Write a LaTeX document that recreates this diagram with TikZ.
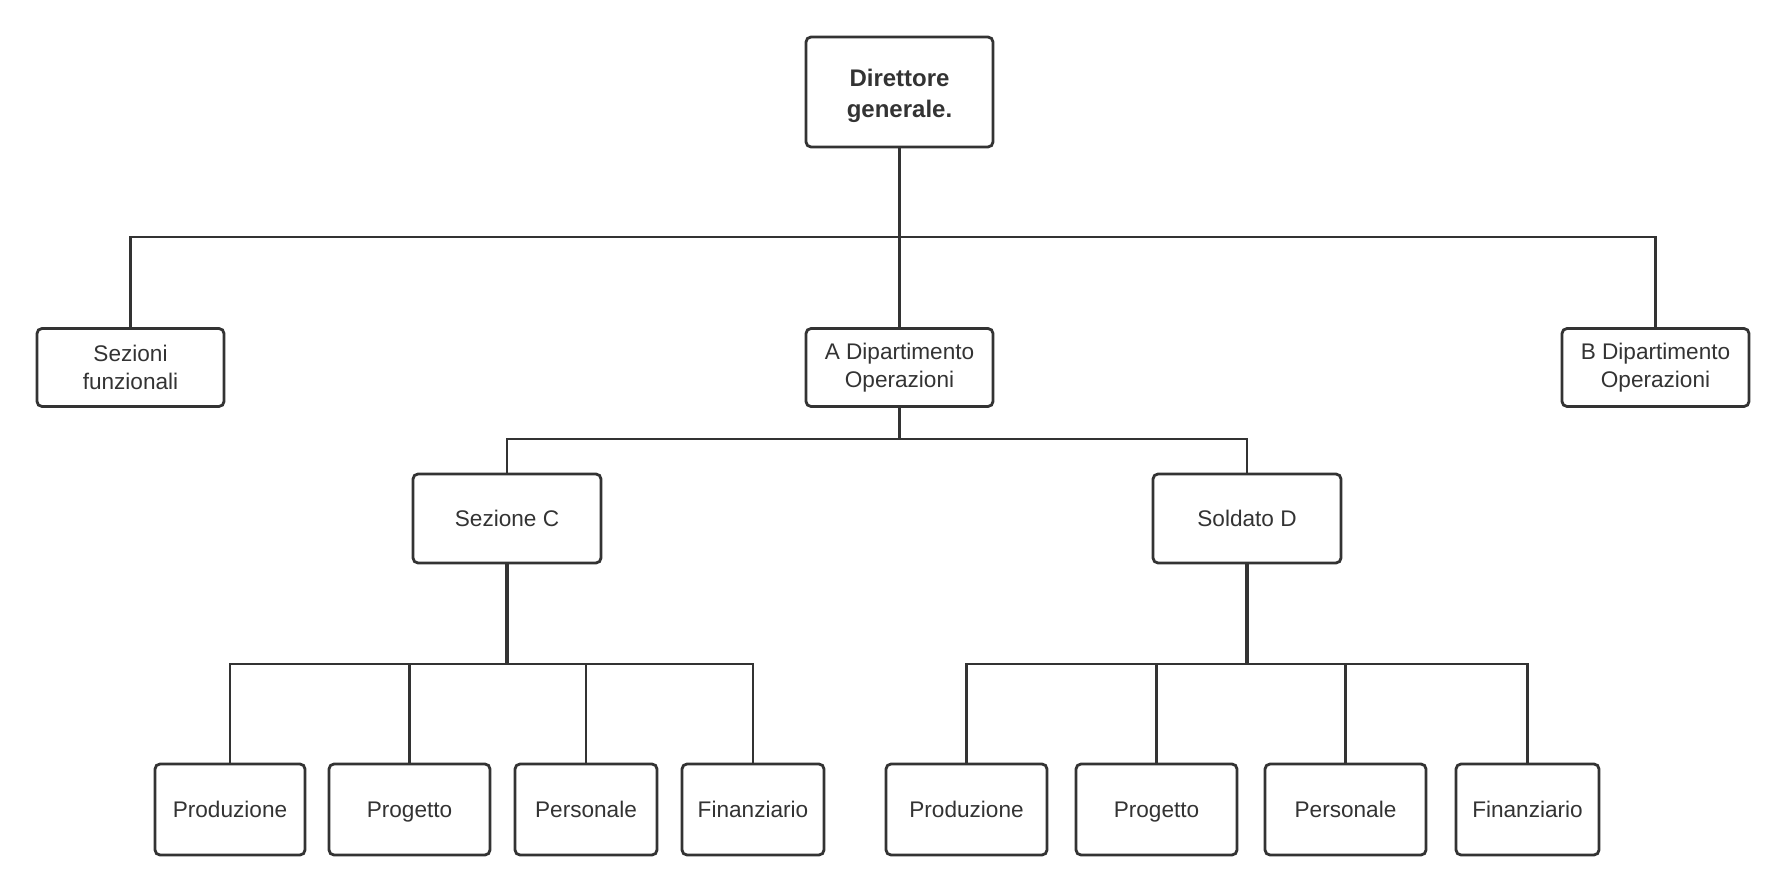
\documentclass[tikz,border=0pt]{standalone}
\usepackage{fontspec}
\setmainfont{Liberation Sans}
\definecolor{ink}{HTML}{333333}
\begin{document}
\begin{tikzpicture}[x=0.5pt,y=-0.5pt,
  box/.style={draw=ink, line width=1.4pt, rounded corners=2.5pt, fill=white, text=ink,
    align=center, inner sep=0pt, font=\fontsize{11.3}{14.2}\selectfont},
  oneline/.style={text height=8.2pt, text depth=0.2pt},
  conn/.style={draw=ink, line width=1.2pt},
  trunk/.style={draw=ink, line width=1.7pt}]
\useasboundingbox (0,0) rectangle (1787,892);
% level 0
\node[box, minimum width=93.5pt, minimum height=55pt] (top) at (899.5,92) {};
\node[text=ink, align=center, inner sep=0pt, font=\fontsize{12}{15.4}\selectfont\bfseries] (toptext) at (899.5,95.5) {Direttore\\generale.};
% level 1
\node[box, minimum width=93.5pt, minimum height=39pt] (sez) at (130.5,367.5) {Sezioni\\funzionali};
\node[box, minimum width=93.5pt, minimum height=39pt] (A) at (899.5,367.5) {A Dipartimento\\Operazioni};
\node[box, minimum width=93.5pt, minimum height=39pt] (B) at (1655.5,367.5) {B Dipartimento\\Operazioni};
% level 2
\node[box, oneline, minimum width=94pt, minimum height=44.5pt] (C) at (507,518.5) {Sezione C};
\node[box, oneline, minimum width=94pt, minimum height=44.5pt] (D) at (1247,518.5) {Soldato D};
% level 3 left
\node[box, oneline, minimum width=75pt, minimum height=45.5pt] (c1) at (230,809.5) {Produzione};
\node[box, oneline, minimum width=80.5pt, minimum height=45.5pt] (c2) at (409.5,809.5) {Progetto};
\node[box, oneline, minimum width=71pt, minimum height=45.5pt] (c3) at (586,809.5) {Personale};
\node[box, oneline, minimum width=71pt, minimum height=45.5pt] (c4) at (753,809.5) {Finanziario};
% level 3 right
\node[box, oneline, minimum width=80.5pt, minimum height=45.5pt] (d1) at (966.5,809.5) {Produzione};
\node[box, oneline, minimum width=80.5pt, minimum height=45.5pt] (d2) at (1156.5,809.5) {Progetto};
\node[box, oneline, minimum width=80.5pt, minimum height=45.5pt] (d3) at (1345.5,809.5) {Personale};
\node[box, oneline, minimum width=71.5pt, minimum height=45.5pt] (d4) at (1527.5,809.5) {Finanziario};
% junction coordinates
\coordinate (j0) at (899.5,237);
\coordinate (j1) at (899.5,439);
\coordinate (jc) at (507,664);
\coordinate (jd) at (1247,664);
% connectors
\draw[trunk] (top.south) -- (j0);
\draw[conn] (j0) -- (A.north);
\draw[conn] (sez.north) |- (j0) -| (B.north);
\draw[trunk] (A.south) -- (j1);
\draw[conn] (C.north) |- (j1) -| (D.north);
\draw[trunk] (C.south) -- (jc);
\draw[conn] (c1.north) |- (jc) -| (c4.north);
\draw[conn] (c2.north) |- (jc);
\draw[conn] (c3.north) |- (jc);
\draw[trunk] (D.south) -- (jd);
\draw[conn] (d1.north) |- (jd) -| (d4.north);
\draw[conn] (d2.north) |- (jd);
\draw[conn] (d3.north) |- (jd);
\end{tikzpicture}
\end{document}
